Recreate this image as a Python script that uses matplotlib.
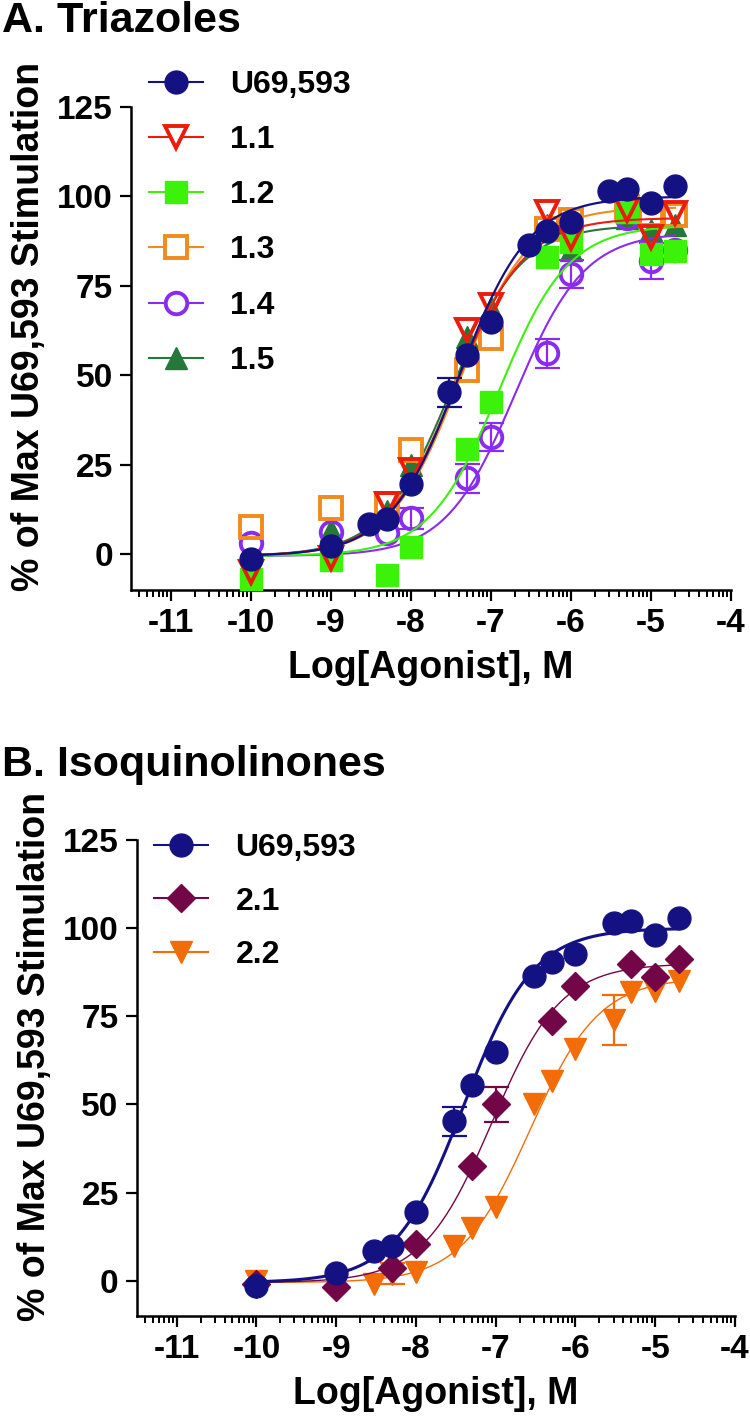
import numpy as np
import matplotlib
matplotlib.use('Agg')
from matplotlib import pyplot as plt
from matplotlib.lines import Line2D
from matplotlib.ticker import FixedLocator, NullFormatter

plt.rcParams['font.family'] = ['Liberation Sans', 'DejaVu Sans']
plt.rcParams['font.weight'] = 'bold'

#------------------------------------------------------------
# log[agonist] (M) used in the assays
x_full = [-10, -9, -8.52, -8.30, -8, -7.52, -7.30, -7, -6.52, -6.30, -6,
          -5.52, -5.30, -5, -4.70]
x_sub = [-10, -9, -8.30, -8, -7.30, -7, -6.30, -6, -5.30, -5, -4.70]

# reference agonist (same in both panels)
u69 = [-1.4, 2.3, 8.4, 9.9, 19.5, 45.2, 55.6, 65.0, 86.4, 90.4, 92.8,
       101.5, 102.0, 98.2, 103.0]
u69_err = [0, 0, 0, 0, 0, 4, 0, 0, 0, 0, 0, 0, 0, 0, 0]

# panel A - triazoles
c11 = [-5, -1.2, 14, 23.5, 62.6, 69.6, 95.5, 88.3, 96.2, 88.7, 95.3]
c12 = [-7, -1.7, -5.9, 2.0, 29.3, 42.6, 83.0, 87.3, 95.7, 84.0, 84.8]
c13 = [7.6, 13.0, 14.0, 29.0, 51.5, 60.3, 91.0, 93.4, 97.0, 95.0, 94.8]
c14 = [3.0, 6.2, 5.8, 10.0, 21.2, 32.8, 56.1, 78.3, 94.0, 82.0, 85.0]
c14_err = [0, 0, 0, 3, 4, 4, 4, 4, 0, 5, 0]
c15 = [-3, 6.7, 12, 25, 60.8, 68.7, 92, 85, 94, 90.6, 92]

# panel B - isoquinolinones
c21 = [-0.9, -1.9, 3.5, 10.4, 32.6, 50.0, 73.6, 83.7, 89.8, 86.2, 91.3]
c21_err = [0, 0, 0, 0, 0, 5, 0, 0, 0, 0, 0]
c22 = [0, -0.5, -1, 2, 2.4, 9.9, 15.1, 20.8, 50.0, 56.6, 65.6, 74.0,
       81.8, 82.3, 84.9]
c22_err = [0, 0, 0, 3, 0, 0, 0, 0, 0, 0, 0, 7, 0, 0, 0]

# fitted sigmoid parameters: bottom, top, logEC50, hill slope
fit_u69 = [-0.5, 100, -7.40, 1.0]
fit_11 = [-0.5, 94, -7.45, 1.0]
fit_12 = [-0.5, 92, -6.90, 1.0]
fit_13 = [-0.5, 97, -7.40, 1.0]
fit_14 = [-0.5, 90, -6.70, 1.0]
fit_15 = [-0.5, 92, -7.50, 1.0]
fit_21 = [-0.5, 90, -7.05, 1.0]
fit_22 = [-0.5, 86, -6.57, 1.0]

NAVY = '#141282'
RED = '#ec1c0c'
GREEN = '#3cf20a'
ORANGE = '#f28a1c'
PURPLE = '#8a2cf0'
DKGREEN = '#25773a'
MAROON = '#730646'
ORANGE2 = '#f26d08'


def sigmoid(p, x):
    bottom, top, ec50, h = p
    return bottom + (top - bottom) / (1 + 10 ** ((ec50 - x) * h))


def format_axes(ax):
    for spine in ['top', 'right']:
        ax.spines[spine].set_visible(False)
    for spine in ['left', 'bottom']:
        ax.spines[spine].set_linewidth(1.8)
    ax.set_xlim(-11.5, -4)
    ax.set_ylim(-10, 125)
    ax.set_xticks(range(-11, -3))
    ax.set_xticklabels([str(v) for v in range(-11, -3)])
    minors = [d + np.log10(k) for d in range(-12, -4) for k in range(2, 10)]
    minors = [m for m in minors if -11.5 <= m <= -4]
    ax.xaxis.set_minor_locator(FixedLocator(minors))
    ax.xaxis.set_minor_formatter(NullFormatter())
    ax.set_yticks([0, 25, 50, 75, 100, 125])
    ax.tick_params(which='major', direction='out', length=8, width=1.6,
                   labelsize=24, pad=5)
    ax.tick_params(which='minor', direction='out', length=5, width=1.4)
    ax.set_xlabel('Log[Agonist], M', fontsize=27, fontweight='bold', labelpad=8)
    ax.set_ylabel('% of Max U69,593 Stimulation', fontsize=27,
                  fontweight='bold')
    ax.yaxis.set_label_coords(-0.14, 0.545)
    return ax


def draw(ax, x, y, err, fit, color, marker, ms, filled, lw, z, mew=2.8):
    xx = np.linspace(min(x), max(x), 300)
    ax.plot(xx, sigmoid(fit, xx), color=color, lw=lw, zorder=z)
    if err is not None:
        xe = [a for a, e in zip(x, err) if e > 0]
        ye = [b for b, e in zip(y, err) if e > 0]
        ee = [e for e in err if e > 0]
        ax.errorbar(xe, ye, yerr=ee, fmt='none', ecolor=color, elinewidth=1.6,
                    capsize=9, capthick=1.6, zorder=z + 0.1)
    if filled:
        ax.plot(x, y, ls='none', marker=marker, ms=ms, mfc=color, mec=color,
                mew=1, zorder=z + 0.2, clip_on=False)
        h = Line2D([], [], color=color, lw=1.5, marker=marker, ms=ms,
                   mfc=color, mec=color, mew=1)
    else:
        ax.plot(x, y, ls='none', marker=marker, ms=ms, mfc='none', mec=color,
                mew=mew, zorder=z + 0.2, clip_on=False)
        h = Line2D([], [], color=color, lw=1.5, marker=marker, ms=ms,
                   mfc='white', mec=color, mew=mew)
    return h


fig = plt.figure(figsize=(7.5, 14.24), dpi=100)

#------------------------------------------------------------
# A. Triazoles
axA = fig.add_axes([0.1747, 0.5857, 0.8, 0.3392])
format_axes(axA)
hA = []
hA.append(draw(axA, x_full, u69, u69_err, fit_u69, NAVY, 'o', 16.5, True, 1.6, 16))
hA.append(draw(axA, x_sub, c11, None, fit_11, RED, 'v', 16, False, 1.5, 15))
hA.append(draw(axA, x_sub, c12, None, fit_12, GREEN, 's', 16.5, True, 1.5, 14))
hA.append(draw(axA, x_sub, c13, None, fit_13, ORANGE, 's', 15.5, False, 1.5, 13))
hA.append(draw(axA, x_sub, c14, c14_err, fit_14, PURPLE, 'o', 15.5, False, 1.5, 12))
hA.append(draw(axA, x_sub, c15, None, fit_15, DKGREEN, '^', 16.5, True, 1.5, 11))
axA.legend(hA, ['U69,593', '1.1', '1.2', '1.3', '1.4', '1.5'],
           loc='upper left', bbox_to_anchor=(0.1987, 0.951),
           bbox_transform=fig.transFigure, frameon=False, numpoints=1,
           fontsize=23, handlelength=1.7, handletextpad=0.85,
           labelspacing=0.79, borderpad=0, borderaxespad=0)
fig.text(0.002, 1 - 32 / 1424, 'A. Triazoles', fontsize=31,
         fontweight='bold', va='baseline')

#------------------------------------------------------------
# B. Isoquinolinones
axB = fig.add_axes([0.1823, 0.0758, 0.7977, 0.3343])
format_axes(axB)
hB = []
hB.append(draw(axB, x_full, u69, u69_err, fit_u69, NAVY, 'o', 16.5, True, 2.2, 16))
hB.append(draw(axB, x_sub, c21, c21_err, fit_21, MAROON, 'D', 14.5, True, 1.0, 15))
hB.append(draw(axB, x_full, c22, c22_err, fit_22, ORANGE2, 'v', 16.5, True, 1.0, 14))
axB.legend(hB, ['U69,593', '2.1', '2.2'],
           loc='upper left', bbox_to_anchor=(0.2053, 0.415),
           bbox_transform=fig.transFigure, frameon=False, numpoints=1,
           fontsize=23, handlelength=1.7, handletextpad=0.85,
           labelspacing=0.74, borderpad=0, borderaxespad=0)
fig.text(0.002, 1 - 776 / 1424, 'B. Isoquinolinones', fontsize=31,
         fontweight='bold', va='baseline')

plt.savefig('out.png', dpi=100)
